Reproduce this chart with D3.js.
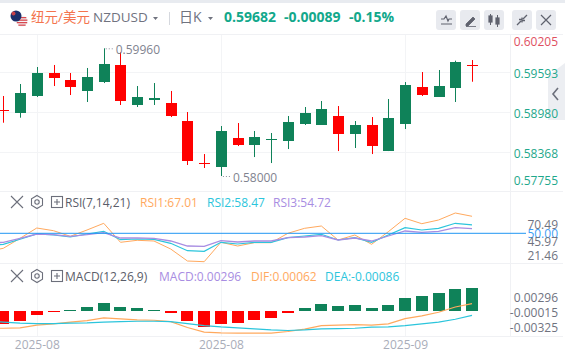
<!DOCTYPE html>
<html>
<head>
<meta charset="utf-8">
<script src="https://d3js.org/d3.v7.min.js"></script>
<style>
html,body{margin:0;padding:0;background:#fff;overflow:hidden}
svg{display:block}
text{font-family:"Open Sans","Noto Sans CJK SC",sans-serif}
</style>
</head>
<body>
<div id="chart"></div>
<script>
const opens  = [.59008,.58971,.59228,.59581,.59473,.59305,.59442,.59704,.59090,.59166,.59120,.58844,.58204,.58138,.58583,.58476,.58552,.58537,.58798,.58783,.58921,.58645,.58783,.58383,.58798,.59366,.59217,.59351,.59699]
const closes = [.59000,.59274,.59581,.59504,.59366,.59519,.59719,.59151,.59213,.59197,.58921,.58230,.58184,.58691,.58476,.58598,.58568,.58829,.58967,.59028,.58645,.58783,.58460,.58890,.59397,.59243,.59381,.59750,.59682]
const highs  = [.59228,.59412,.59673,.59704,.59581,.59658,.59960,.59903,.59381,.59427,.59305,.58982,.58337,.58767,.58813,.58691,.58660,.58921,.59059,.59151,.59074,.58844,.58905,.59182,.59442,.59596,.59627,.59770,.59780]
const lows   = [.58818,.58895,.59213,.59381,.59243,.59136,.59427,.59090,.59059,.59090,.58905,.58169,.58123,.58000,.58460,.58291,.58199,.58414,.58783,.58783,.58383,.58430,.58337,.58383,.58721,.59228,.59217,.59136,.59447]

// line series carry one extra leading value, just off the left edge
const rsi1 = [31.6,35,45,55.3,52.6,47,53.3,60,41,43,42.3,34.3,22.3,21.6,41,37.3,40.6,40.6,50,55,57.3,43.3,48.3,39,51.6,65,59.6,63.3,70.3,67.01]
const rsi2 = [37.6,39,44,49.3,48.3,46.3,49.3,52,43.6,44.3,44,40,32.6,32,41,39.3,41,41,45.6,47.3,49,43.3,45.6,41,48.3,55.6,53.3,55,60,58.47]
const rsi3 = [40,41,45,49.3,48.6,47,48.6,50.6,45.3,45.3,45,42.3,37.3,37,42.6,41.3,42.3,42.3,45.6,46.3,47.6,43.3,45.3,42.3,47.3,52.3,51,52,55.6,54.72]
const dif  = [-.00251,-.00251,-.00246,-.00212,-.00195,-.00174,-.00153,-.00119,-.00132,-.00145,-.00149,-.00166,-.00242,-.00301,-.00310,-.00314,-.00314,-.00314,-.00293,-.00263,-.00217,-.00212,-.00204,-.00212,-.00195,-.00128,-.00094,-.00047,.00020,.00062]
const dea  = [-.00158,-.00174,-.00187,-.00191,-.00191,-.00187,-.00183,-.00174,-.00166,-.00162,-.00162,-.00166,-.00191,-.00217,-.00234,-.00246,-.00259,-.00272,-.00280,-.00272,-.00259,-.00255,-.00251,-.00238,-.00234,-.00217,-.00195,-.00174,-.00136,-.00086]
const macd = [-.00172,-.00129,-.00052,-.00013,.00013,.00052,.00103,.00052,.00039,.00013,-.00026,-.00129,-.00206,-.00168,-.00155,-.00116,-.0009,-.00026,.00039,.0009,.00064,.00077,.00039,.00077,.00168,.00193,.00232,.00284,.00296]

const priceTicks = [.60205,.59593,.58980,.58368,.57755]
const rsiTicks = ["70.49","50.00","45.97","21.46"]
const macdTicks = ["0.00296","-0.00015","-0.00325"]
const dateTicks = [2,13,24]
const dateLabels = ["2025-08","2025-08","2025-09"]

const GREEN = "#0f8259", RED = "#ff0000", TEAL = "#12a88b"
const ORANGE = "#ffa95e", CYAN = "#2cc5dc", PURPLE = "#a88de2"
const GRID = "#f3f4f6", AXISTEXT = "#70737f"

drawChart("#chart")

function drawChart(id){
    const canvas = {width:565, height:357, plotRight:510}
    const svg = d3.select(id).append("svg").attr("width",canvas.width).attr("height",canvas.height)
    svg.append("defs").append("clipPath").attr("id","plot")
       .append("rect").attr("width",canvas.plotRight).attr("height",canvas.height)

    const sc = addScales()
    addFrame(svg,sc,canvas)
    addHeader(svg)
    addCandles(svg,sc)
    addRsi(svg,sc,canvas)
    addMacd(svg,sc)
    addPriceAxis(svg,sc,canvas)
}

function addScales(){
    return {
        x: d3.scaleLinear().domain([0,28]).range([3.3,472.02]),
        price: d3.scaleLinear().domain([.58000,.59960]).range([176,48.3]),
        rsi: d3.scaleLinear().domain([0,100]).range([283.3,183.3]),
        hist: d3.scaleLinear().domain([0,.00296]).range([311,288]),
        macdLine: d3.scaleLinear().domain([-.00086,.00062]).range([315.3,303.7])
    }
}

function addFrame(svg,sc,canvas){
    svg.append("rect").attr("width",canvas.width).attr("height",3).attr("fill","#e8ebf0")

    // vertical grid comes from the date axis
    const axis = svg.append("g").attr("transform","translate(0,336)")
      .call(d3.axisBottom(sc.x).tickValues(dateTicks).tickSize(0).tickPadding(2)
        .tickFormat((d,i) => dateLabels[i]))
    axis.select(".domain").remove()
    axis.selectAll("text").attr("fill","#a9adb9").attr("font-size","12px").attr("dy","0.9em")

    svg.selectAll("line.vgrid").data(dateTicks).enter().append("line").attr("class","vgrid")
      .attr("x1",d => Math.round(sc.x(d))+.5).attr("x2",d => Math.round(sc.x(d))+.5)
      .attr("y1",35).attr("y2",336).attr("stroke",GRID)

    svg.selectAll("line.hgrid").data(priceTicks.slice(1,4)).enter().append("line").attr("class","hgrid")
      .attr("x1",0).attr("x2",canvas.plotRight)
      .attr("y1",d => Math.round(sc.price(d))+.5).attr("y2",d => Math.round(sc.price(d))+.5)
      .attr("stroke",GRID)

    const seps = [34.5,191.5,263.5,336.5]
    svg.selectAll("line.sep").data(seps).enter().append("line").attr("class","sep")
      .attr("x1",0).attr("x2",canvas.width-2).attr("y1",d => d).attr("y2",d => d)
      .attr("stroke","#f0f1f4")

    svg.append("line").attr("x1",510.5).attr("x2",510.5).attr("y1",35).attr("y2",336).attr("stroke","#f0f1f4")

    // the grey pull tab on the right edge
    svg.append("path").attr("d","M565 63 L548 76 L548 120 L565 120 Z").attr("fill","#eceef2")
    svg.append("path").attr("d","M558 88 L553 94 L558 100").attr("fill","none")
      .attr("stroke","#6c6f7b").attr("stroke-width",1.6)
}

function addHeader(svg){
    addFlag(svg)
    const head = [
        {x:31,text:"纽元/美元",color:"#f4744e",size:13.5},
        {x:93,text:"NZDUSD",color:"#70737f",size:13.5},
        {x:179,text:"日K",color:"#70737f",size:14},
        {x:224,text:"0.59682",color:TEAL,size:14,bold:true},
        {x:284,text:"-0.00089",color:TEAL,size:14,bold:true},
        {x:349,text:"-0.15%",color:TEAL,size:14,bold:true}
    ]
    svg.selectAll("text.head").data(head).enter().append("text").attr("class","head")
      .attr("x",d => d.x).attr("y",22).attr("fill",d => d.color)
      .attr("font-size",d => d.size+"px").attr("font-weight",d => d.bold ? 700 : 400)
      .text(d => d.text)

    svg.append("path").attr("d","M153 17 h5 l-2.5 3 Z M208 17 h5 l-2.5 3 Z").attr("fill","#70737f")
    svg.append("line").attr("x1",169.5).attr("x2",169.5).attr("y1",12).attr("y2",25).attr("stroke","#d5d8de")

    const buttons = [436,460,484,512,536]
    svg.selectAll("rect.btn").data(buttons).enter().append("rect").attr("class","btn")
      .attr("x",d => d).attr("y",10).attr("width",20).attr("height",20).attr("rx",3).attr("fill","#e8eaef")

    const g = svg.append("g").attr("fill","none").attr("stroke","#5f626e").attr("stroke-width",1.2)
    g.append("path").attr("d","M441 19 h3 l2 -3 l2 5 l1 -2 h3 M441 24 h11")
    g.append("path").attr("d","M466 24 l7 -7 l2 2 l-7 7 h-2 Z M466 26.5 h10").attr("fill","#5f626e").attr("stroke-width",.8)
    g.append("path").attr("d","M490.5 14 v11 M497.5 15 v12").attr("stroke-width",1)
    g.append("rect").attr("x",489).attr("y",16).attr("width",3).attr("height",6).attr("fill","#5f626e")
    g.append("rect").attr("x",496).attr("y",18).attr("width",3).attr("height",6).attr("fill","#5f626e")
    g.append("path").attr("d","M517 25 l4 -4 M527 15 l-4 4 M519 19.5 h3 v3 M525 20.5 h-3 v-3").attr("stroke-width",1.3)
    g.append("path").attr("d","M541 15 l10 10 M551 15 l-10 10")
}

function addFlag(svg){
    svg.append("circle").attr("cx",22).attr("cy",21).attr("r",5.5).attr("fill","#f3f3f5")
    const stripes = [17,19.5,22,24.5]
    svg.selectAll("rect.stripe").data(stripes).enter().append("rect").attr("class","stripe")
      .attr("x",d => 22-Math.sqrt(Math.max(0,30-Math.pow(d+.6-21,2)))).attr("y",d => d)
      .attr("width",d => 2*Math.sqrt(Math.max(0,30-Math.pow(d+.6-21,2)))).attr("height",1.3)
      .attr("fill","#d8484f")
    svg.append("circle").attr("cx",16).attr("cy",16).attr("r",5.5).attr("fill","#1c2f6b")
    svg.append("circle").attr("cx",13.5).attr("cy",13.5).attr("r",2).attr("fill","#c8404a")
}

function addCandles(svg,sc){
    const cx = i => Math.round(sc.x(i))
    const color = i => closes[i] >= opens[i] ? GREEN : RED
    const g = svg.append("g").attr("clip-path","url(#plot)")

    g.selectAll("rect.wick").data(d3.range(opens.length)).enter().append("rect").attr("class","wick")
      .attr("x",cx).attr("width",1)
      .attr("y",i => sc.price(highs[i]))
      .attr("height",i => sc.price(lows[i])-sc.price(highs[i]))
      .attr("fill",color)

    g.selectAll("rect.body").data(d3.range(opens.length)).enter().append("rect").attr("class","body")
      .attr("x",i => cx(i)-5).attr("width",11)
      .attr("y",i => Math.round(sc.price(Math.max(opens[i],closes[i]))))
      .attr("height",i => Math.max(1,Math.round(Math.abs(sc.price(opens[i])-sc.price(closes[i])))))
      .attr("fill",color)

    addCallout(svg,sc.x(6),sc.price(.59960),"0.59960")
    addCallout(svg,sc.x(13),sc.price(.58000),"0.58000")
}

function addCallout(svg,x,y,label){
    svg.append("line").attr("x1",x+2).attr("x2",x+11).attr("y1",y+.5).attr("y2",y+.5)
      .attr("stroke","#8b8f9c").attr("stroke-dasharray","1 2")
    svg.append("text").attr("x",x+12).attr("y",y+6).attr("fill","#7f838f")
      .attr("font-size","12px").text(label)
}

function addLegend(svg,y,items){
    const g = svg.append("g").attr("fill","none").attr("stroke","#6c6f7b").attr("stroke-width",1.1)
    g.append("path").attr("d",`M11 ${y-6} l12 12 M23 ${y-6} l-12 12`)
    g.append("path").attr("d",`M37 ${y-6.5} l5.5 3.2 v6.6 l-5.5 3.2 l-5.5 -3.2 v-6.6 Z`)
    g.append("circle").attr("cx",37).attr("cy",y).attr("r",2.2)
    g.append("rect").attr("x",51.5).attr("y",y-5.5).attr("width",11).attr("height",11)
    g.append("path").attr("d",`M54 ${y} h6 M57 ${y-3} v6`)

    svg.selectAll(null).data(items).enter().append("text")
      .attr("x",d => d.x).attr("y",y+4.5).attr("fill",d => d.color)
      .attr("font-size","12px").text(d => d.text)
}

function addRsi(svg,sc,canvas){
    addLegend(svg,202,[
        {x:65,text:"RSI(7,14,21)",color:"#5a5d69"},
        {x:140,text:"RSI1:67.01",color:ORANGE},
        {x:207,text:"RSI2:58.47",color:CYAN},
        {x:273,text:"RSI3:54.72",color:PURPLE}
    ])

    const line = d3.line().x((d,i) => sc.x(i-1)).y(d => sc.rsi(d))
    const g = svg.append("g").attr("clip-path","url(#plot)").attr("fill","none")
    const series = [{v:rsi1,c:ORANGE,w:1},{v:rsi2,c:CYAN,w:1.2},{v:rsi3,c:PURPLE,w:1.3}]
    g.selectAll("path").data(series).enter().append("path")
      .attr("d",d => line(d.v)).attr("stroke",d => d.c).attr("stroke-width",d => d.w)

    svg.append("line").attr("x1",0).attr("x2",canvas.plotRight+16)
      .attr("y1",sc.rsi(50)).attr("y2",sc.rsi(50)).attr("stroke","#2196f3").attr("stroke-width",1)

    // these labels sit squeezed together in the original, not on their scale positions
    const labelY = [228.5,238,245.5,259.5]
    svg.selectAll("text.rsitick").data(rsiTicks).enter().append("text").attr("class","rsitick")
      .attr("x",558).attr("y",(d,i) => labelY[i]).attr("text-anchor","end")
      .attr("font-size","12px").attr("fill",d => d === "50.00" ? "#3d9df5" : AXISTEXT)
      .text(d => d)
}

function addMacd(svg,sc){
    addLegend(svg,276,[
        {x:65,text:"MACD(12,26,9)",color:"#5a5d69"},
        {x:159,text:"MACD:0.00296",color:PURPLE},
        {x:251,text:"DIF:0.00062",color:ORANGE},
        {x:325,text:"DEA:-0.00086",color:CYAN}
    ])

    const zero = sc.hist(0)
    const g = svg.append("g").attr("clip-path","url(#plot)")
    g.selectAll("rect").data(macd).enter().append("rect")
      .attr("x",(d,i) => Math.round(sc.x(i))-6).attr("width",12)
      .attr("y",d => d > 0 ? Math.round(sc.hist(d)) : zero)
      .attr("height",d => Math.max(1,Math.round(Math.abs(sc.hist(d)-zero))))
      .attr("fill",d => d > 0 ? GREEN : RED)

    const line = d3.line().x((d,i) => sc.x(i-1)).y(d => sc.macdLine(d))
    g.append("path").attr("d",line(dif)).attr("fill","none").attr("stroke",ORANGE).attr("stroke-width",1.2)
    g.append("path").attr("d",line(dea)).attr("fill","none").attr("stroke",CYAN).attr("stroke-width",1.2)

    const labelY = [301.5,317,331.5]
    svg.selectAll("text.macdtick").data(macdTicks).enter().append("text").attr("class","macdtick")
      .attr("x",558).attr("y",(d,i) => labelY[i]).attr("text-anchor","end")
      .attr("font-size","12px").attr("fill",AXISTEXT).text(d => d)
}

function addPriceAxis(svg,sc){
    const axis = svg.append("g").attr("transform","translate(558,0)")
      .call(d3.axisLeft(sc.price).tickValues(priceTicks).tickSize(0).tickPadding(0).tickFormat(d3.format(".5f")))
    axis.select(".domain").remove()
    // top and bottom labels get pushed inside the pane
    axis.selectAll(".tick").attr("transform",d => `translate(0,${Math.min(181.5,Math.max(42.5,sc.price(d)+2))})`)
    axis.selectAll("text").attr("font-size","12px").attr("fill",d => d === .60205 ? "#e0505f" : "#1fa88c")
}
</script>
</body>
</html>
